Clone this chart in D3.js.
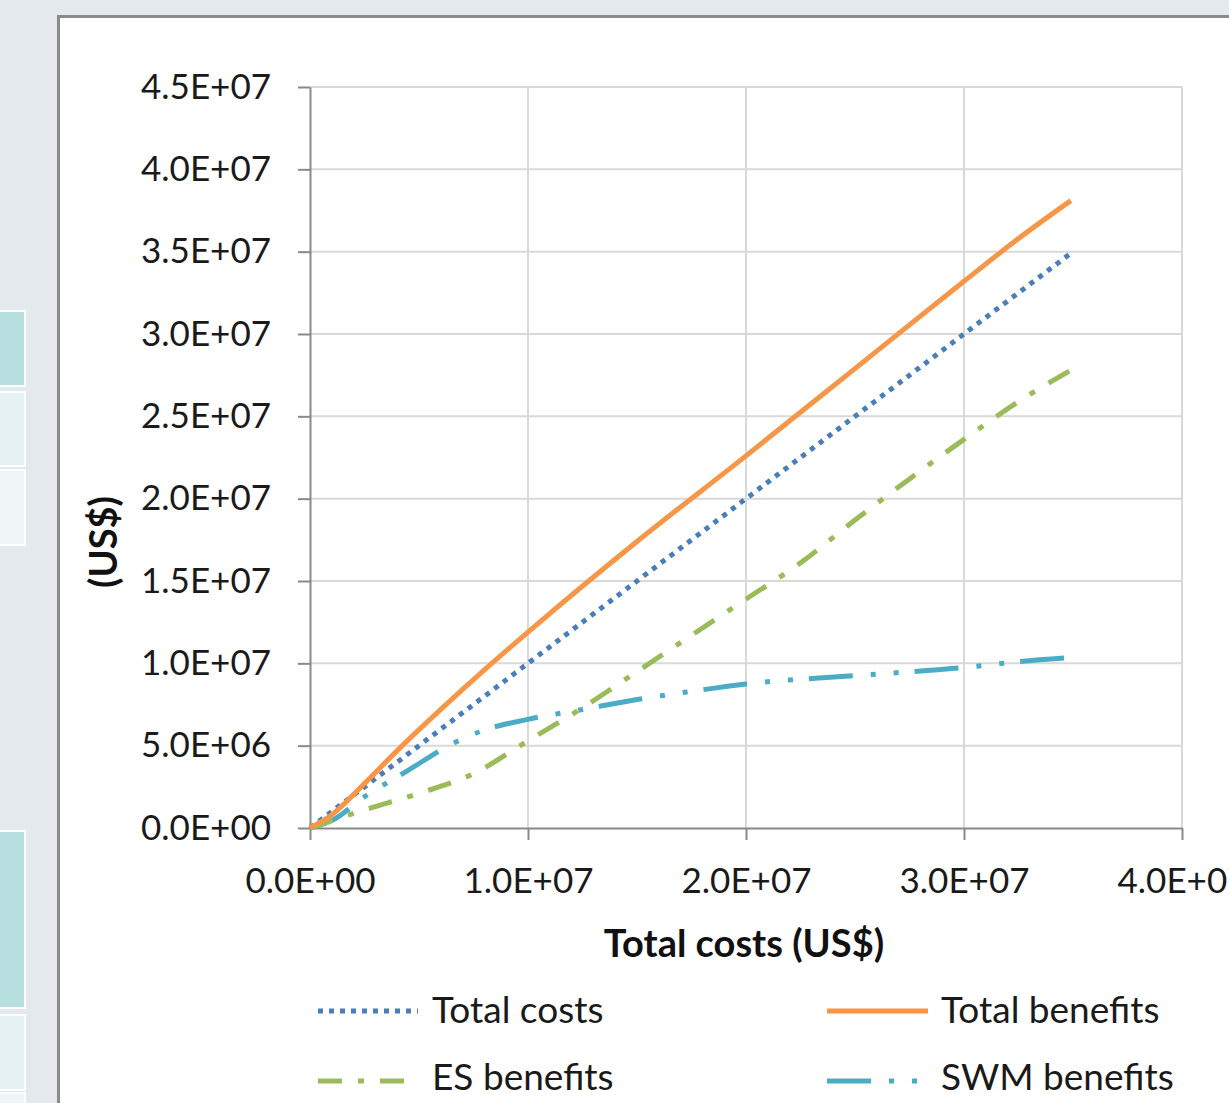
<!DOCTYPE html>
<html><head><meta charset="utf-8">
<script src="https://cdn.jsdelivr.net/npm/d3@7"></script>
<style>
html,body{margin:0;padding:0;background:#e3e9ec;overflow:hidden;}
svg{display:block;}
</style></head>
<body>
<svg id="c" width="1229" height="1103"></svg>
<script>
// ---- data ----
const seriesNames = ["Total costs", "Total benefits", "ES benefits", "SWM benefits"];
const xTicks = [0, 1e7, 2e7, 3e7, 4e7];
const yTicks = [0, 5e6, 1e7, 1.5e7, 2e7, 2.5e7, 3e7, 3.5e7, 4e7, 4.5e7];

const totalCostsX = [0, 5e6, 1e7, 1.5e7, 2e7, 2.5e7, 3e7, 3.49e7];
const totalCostsY = [0, 5e6, 1e7, 1.5e7, 2e7, 2.5e7, 3e7, 3.49e7];

const totalBenefitsX = [0, 1e6, 2.5e6, 4e6, 6e6, 8e6, 1e7, 1.5e7, 2e7, 2.5e7, 3e7, 3.25e7, 3.49e7];
const totalBenefitsY = [0, 0.8e6, 2.7e6, 4.7e6, 7.2e6, 9.6e6, 11.9e6, 17.4e6, 22.6e6, 27.9e6, 33.2e6, 35.8e6, 38.1e6];

const esBenefitsX = [0, 2.5e6, 5e6, 7.5e6, 1e7, 1.25e7, 1.5e7, 1.75e7, 2e7, 2.25e7, 2.5e7, 2.75e7, 3e7, 3.25e7, 3.49e7];
const esBenefitsY = [0, 1.1e6, 2.1e6, 3.3e6, 5.3e6, 7.3e6, 9.5e6, 11.7e6, 13.9e6, 16.1e6, 18.7e6, 21.2e6, 23.6e6, 25.9e6, 27.8e6];

const swmBenefitsX = [0, 1e6, 2.5e6, 4.5e6, 6.5e6, 8e6, 1e7, 1.25e7, 1.5e7, 1.75e7, 2e7, 2.5e7, 3e7, 3.25e7, 3.49e7];
const swmBenefitsY = [0, 0.45e6, 1.9e6, 3.5e6, 5.1e6, 5.95e6, 6.6e6, 7.2e6, 7.8e6, 8.3e6, 8.75e6, 9.25e6, 9.75e6, 10.1e6, 10.35e6];

// ---- drawing ----
const svg = d3.select("#c");
const FONT = "Lato, 'Open Sans', sans-serif";

// left page fragments (table cells behind the chart)
const cells = [
  {y:311,h:75,c:"#b8dfe0"},{y:392,h:74,c:"#e5f1f2"},{y:470,h:75,c:"#f0f6f8"},
  {y:831,h:177,c:"#b8dfe0"},{y:1015,h:75,c:"#e5f1f2"},{y:1093,h:20,c:"#f0f6f8"}
];
svg.selectAll("rect.cell").data(cells).join("rect")
  .attr("x",-2).attr("y",d=>d.y).attr("width",27).attr("height",d=>d.h)
  .attr("fill",d=>d.c).attr("stroke","#ffffff").attr("stroke-width",2);

// chart frame
svg.append("rect").attr("x",58.5).attr("y",16.5).attr("width",1300).attr("height",1200)
  .attr("fill","#ffffff").attr("stroke","#8a8a8a").attr("stroke-width",3);

const x = d3.scaleLinear().domain([0,4e7]).range([310,1182]);
const y = d3.scaleLinear().domain([0,4.5e7]).range([828,87]);

function sci(d){
  if(d===0) return "0.0E+00";
  const e = Math.floor(Math.log10(d)+1e-9);
  const m = d/Math.pow(10,e);
  return m.toFixed(1)+"E+"+String(e).padStart(2,"0");
}

// gridlines
svg.append("g").selectAll("line").data(yTicks.slice(1)).join("line")
  .attr("x1",310).attr("x2",1182).attr("y1",d=>y(d)).attr("y2",d=>y(d))
  .attr("stroke","#d9d9d9").attr("stroke-width",2);
svg.append("g").selectAll("line").data(xTicks.slice(1)).join("line")
  .attr("y1",87).attr("y2",828).attr("x1",d=>x(d)).attr("x2",d=>x(d))
  .attr("stroke","#d9d9d9").attr("stroke-width",2);

// axes
const yAxis = svg.append("g").attr("transform","translate(310,0)")
  .call(d3.axisLeft(y).tickValues(yTicks).tickFormat(sci).tickSize(12).tickPadding(27).tickSizeOuter(0));
const xAxis = svg.append("g").attr("transform","translate(0,828)")
  .call(d3.axisBottom(x).tickValues(xTicks).tickFormat(sci).tickSize(12).tickPadding(28).tickSizeOuter(0));
[yAxis,xAxis].forEach(g=>{
  g.select(".domain").attr("stroke","#898989").attr("stroke-width",2);
  g.selectAll(".tick line").attr("stroke","#898989").attr("stroke-width",2);
  g.selectAll(".tick text").attr("fill","#1a1a1a").style("font-family",FONT).style("font-size","35px");
});

// axis titles
svg.append("text").attr("x",744).attr("y",957).attr("text-anchor","middle")
  .style("font-family",FONT).style("font-size","38px").style("font-weight","bold")
  .attr("fill","#111").text("Total costs (US$)");
svg.append("text").attr("transform","translate(117,542) rotate(-90)").attr("text-anchor","middle")
  .style("font-family",FONT).style("font-size","38px").style("font-weight","bold")
  .attr("fill","#111").text("(US$)");

// series
const series = [
  {name:seriesNames[0], xs:totalCostsX, ys:totalCostsY, color:"#4a7ebb", dash:"5,6"},
  {name:seriesNames[1], xs:totalBenefitsX, ys:totalBenefitsY, color:"#f79646", dash:null},
  {name:seriesNames[2], xs:esBenefitsX, ys:esBenefitsY, color:"#9bbb59", dash:"24,16,6,16"},
  {name:seriesNames[3], xs:swmBenefitsX, ys:swmBenefitsY, color:"#4bacc6", dash:"44,18,5,18,5,16"}
];
const line = d3.line().x(d=>x(d[0])).y(d=>y(d[1])).curve(d3.curveMonotoneX);
// draw order: SWM, ES, costs, benefits
[3,2,0,1].forEach(i=>{
  const s = series[i];
  svg.append("path").datum(d3.zip(s.xs,s.ys)).attr("d",line)
    .attr("fill","none").attr("stroke",s.color).attr("stroke-width",5)
    .attr("stroke-dasharray",s.dash);
});

// legend
const leg = [
  {i:0, lx:318, ly:1011, len:100, ty:1023},
  {i:1, lx:827, ly:1011, len:101, ty:1023},
  {i:2, lx:318, ly:1081, len:92, ty:1090},
  {i:3, lx:827, ly:1081, len:92, ty:1090}
];
leg.forEach(l=>{
  const s = series[l.i];
  svg.append("line").attr("x1",l.lx).attr("x2",l.lx+l.len).attr("y1",l.ly).attr("y2",l.ly)
    .attr("stroke",s.color).attr("stroke-width",5).attr("stroke-dasharray",s.dash);
  svg.append("text").attr("x",(l.lx<500?432:941)).attr("y",l.ty)
    .style("font-family",FONT).style("font-size","37px").attr("fill","#1a1a1a").text(s.name);
});
</script>
</body></html>
